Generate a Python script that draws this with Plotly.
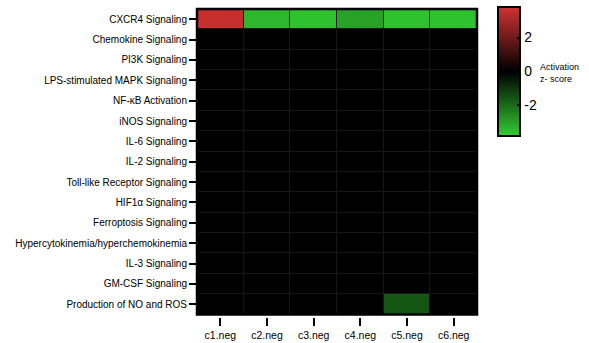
import plotly.graph_objects as go

pathways = [
    "CXCR4 Signaling",
    "Chemokine Signaling",
    "PI3K Signaling",
    "LPS-stimulated MAPK Signaling",
    "NF-κB Activation",
    "iNOS Signaling",
    "IL-6 Signaling",
    "IL-2 Signaling",
    "Toll-like Receptor Signaling",
    "HIF1α Signaling",
    "Ferroptosis Signaling",
    "Hypercytokinemia/hyperchemokinemia",
    "IL-3 Signaling",
    "GM-CSF Signaling",
    "Production of NO and ROS",
]
samples = ["c1.neg", "c2.neg", "c3.neg", "c4.neg", "c5.neg", "c6.neg"]

# activation z-scores per pathway (rows) and sample (columns)
cxcr4_z = [3.6, -3.4, -3.6, -3.0, -3.6, -3.6]
no_ros_z = [0, 0, 0, 0, -1.6, 0]
zero_row = [0, 0, 0, 0, 0, 0]

z = [cxcr4_z] + [zero_row] * 13 + [no_ros_z]

zmax = 3.8
colorscale = [
    [0.0, "rgb(50,205,50)"],
    [0.5, "rgb(0,0,0)"],
    [1.0, "rgb(210,50,50)"],
]

W, H = 589, 343
ML, MR, MT, MB = 197, 112, 7, 26
plot_h = H - MT - MB
plot_w = W - ML - MR

fig = go.Figure(
    go.Heatmap(
        z=z,
        x=samples,
        y=pathways,
        zmin=-zmax,
        zmax=zmax,
        colorscale=colorscale,
        xgap=1,
        ygap=1,
        colorbar=dict(
            x=(498 - ML) / plot_w,
            xanchor="left",
            xpad=0,
            y=(H - MB - 5) / plot_h,
            yanchor="top",
            ypad=0,
            len=130 / plot_h,
            thickness=22,
            outlinecolor="black",
            outlinewidth=2,
            tickvals=[-2, 0, 2],
            ticktext=["-2", "0", "2"],
            ticks="inside",
            ticklen=4,
            tickwidth=1.5,
            tickcolor="black",
            tickfont=dict(family="Liberation Sans, Arial", size=14, color="black"),
        ),
    )
)

fig.add_shape(
    type="rect",
    xref="x domain",
    yref="y domain",
    x0=0,
    x1=1,
    y0=0,
    y1=1,
    line=dict(color="black", width=2.5),
)

fig.add_annotation(
    text="Activation<br>z- score",
    xref="paper",
    yref="paper",
    x=(538 - ML) / plot_w,
    y=(H - MB - 71) / plot_h,
    xanchor="left",
    yanchor="middle",
    align="left",
    showarrow=False,
    font=dict(family="Liberation Sans, Arial", size=9, color="black"),
)

fig.update_xaxes(
    domain=[0, 1],
    anchor="free",
    position=0,
    showline=False,
    ticks="outside",
    ticklen=8,
    tickwidth=2,
    tickcolor="black",
    showgrid=False,
    zeroline=False,
    automargin=False,
    tickfont=dict(family="Liberation Sans, Arial", size=10.5, color="black"),
)
fig.update_yaxes(
    domain=[2.5 / plot_h, 1],
    autorange="reversed",
    ticks="outside",
    ticklen=7,
    tickwidth=2,
    tickcolor="black",
    showgrid=False,
    zeroline=False,
    automargin=False,
    tickfont=dict(family="Liberation Sans, Arial", size=10, color="black"),
)

fig.update_layout(
    width=W,
    height=H,
    margin=dict(l=ML, r=MR, t=MT, b=MB),
    plot_bgcolor="rgb(22,22,22)",
    paper_bgcolor="white",
)

fig.write_html("out.html")
